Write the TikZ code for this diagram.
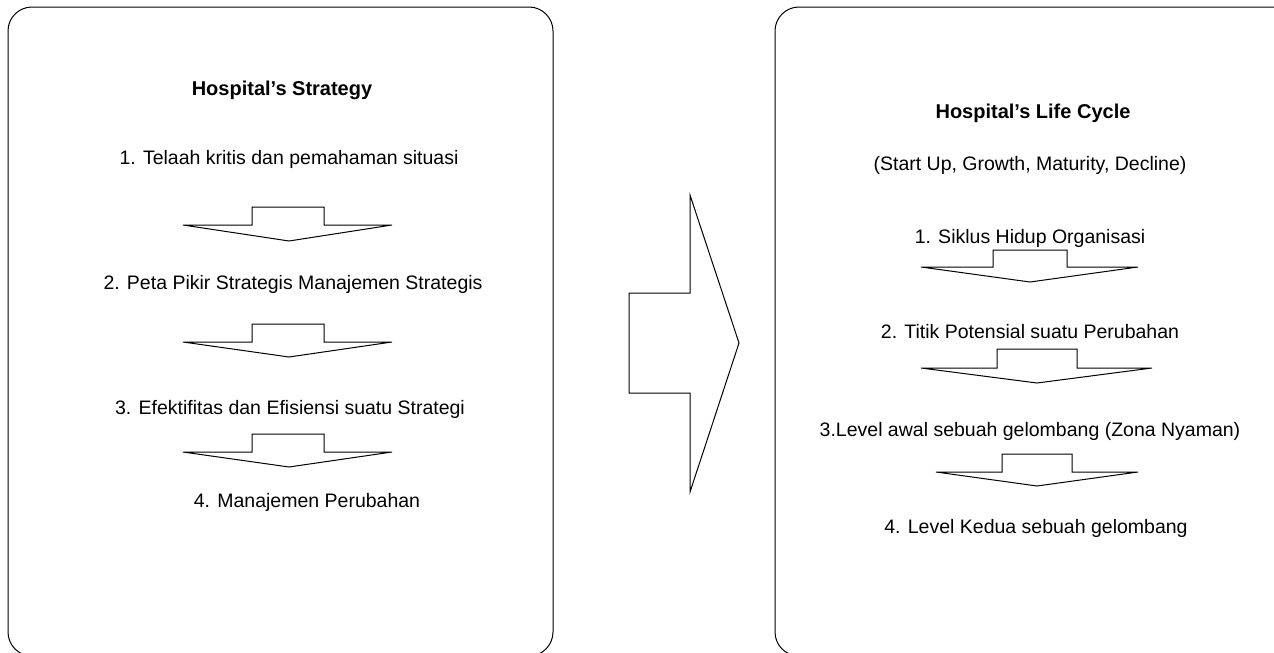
\documentclass[tikz,border=0pt]{standalone}
\usepackage{fontspec}
\setmainfont{Liberation Sans}
\newcommand{\dnarrow}[8]{%
  \draw[shapeline] (#1,#2) -- (#3,#2) -- (#3,#5) -- (#4,#5) -- (#4,#2) -- (#6,#2) -- (#7,#8) -- cycle;}
\begin{document}
\begin{tikzpicture}[x=1pt,y=-1pt,
  shapeline/.style={draw=black, line width=1pt, line join=miter},
  panel/.style={draw=black, line width=1pt, rounded corners=24pt},
  txt/.style={anchor=base, inner sep=0pt, font=\fontsize{19.5}{23}\selectfont},
  ttl/.style={txt, font=\fontsize{20}{24}\selectfont\bfseries}]
\useasboundingbox (0,0) rectangle (1274,653);
\clip (0,0) rectangle (1274,653);
% panels
\draw[panel] (8,7) rectangle (553,656);
\draw[panel] (775,7) rectangle (1296,656);
% left texts
\node[ttl] (lt) at (282,95) {Hospital’s Strategy};
\node[txt] (l1) at (289,164) {1. Telaah kritis dan pemahaman situasi};
\node[txt] (l2) at (293,289) {2. Peta Pikir Strategis Manajemen Strategis};
\node[txt] (l3) at (290,414) {3. Efektifitas dan Efisiensi suatu Strategi};
\node[txt] (l4) at (307,507) {4. Manajemen Perubahan};
% left arrows
\dnarrow{183}{225}{252}{324}{207}{392}{289}{241}
\dnarrow{183}{342}{252}{324}{324}{392}{289}{357}
\dnarrow{183}{452}{252}{324}{434}{392}{289}{467}
% big arrow
\draw[shapeline] (690,195) -- (739,343) -- (690,492) -- (690,393) -- (629,393) -- (629,293) -- (690,293) -- cycle;
% right texts
\node[ttl] (rt) at (1033,118) {Hospital’s Life Cycle};
\node[txt] (rs) at (1030,170) {(Start Up, Growth, Maturity, Decline)};
\node[txt] (r1) at (1030,243) {1. Siklus Hidup Organisasi};
\node[txt] (r2) at (1030,338) {2. Titik Potensial suatu Perubahan};
\node[txt] (r3) at (1030,436) {3.Level awal sebuah gelombang (Zona Nyaman)};
\node[txt] (r4) at (1036,533) {4. Level Kedua sebuah gelombang};
% right arrows
\dnarrow{921}{267}{993}{1067}{250}{1138}{1030}{282}
\dnarrow{921}{368}{997}{1077}{349}{1152}{1037}{383}
\dnarrow{936}{472}{1002}{1072}{454}{1138}{1037}{486}
\end{tikzpicture}
\end{document}
